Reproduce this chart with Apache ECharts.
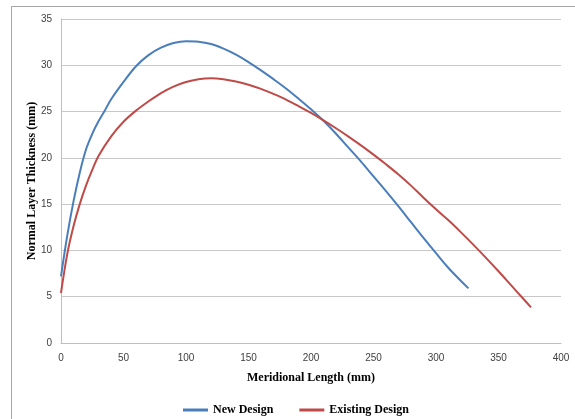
<!DOCTYPE html>
<html>
<head>
<meta charset="utf-8">
<script src="https://cdn.jsdelivr.net/npm/echarts@6/dist/echarts.min.js"></script>
<style>html,body{margin:0;padding:0;background:#fff;}#c{width:575px;height:419px;}</style>
</head>
<body>
<div id="c"></div>
<script>
var seriesNames = ['New Design', 'Existing Design'];
var newX = [0, 5, 10, 15, 20, 25, 30, 35, 40, 50, 60, 70, 80, 90, 100, 110, 120, 130, 140, 150, 160, 170, 180, 190, 200, 210, 220, 230, 240, 250, 260, 270, 280, 290, 300, 310, 320, 326];
var newY = [7.2, 11.6, 15.3, 18.4, 20.9, 22.6, 23.95, 25.1, 26.3, 28.2, 29.9, 31.1, 31.9, 32.4, 32.6, 32.55, 32.3, 31.8, 31.15, 30.35, 29.45, 28.5, 27.5, 26.4, 25.25, 24.0, 22.6, 21.1, 19.6, 18.0, 16.4, 14.75, 13.05, 11.35, 9.7, 8.1, 6.7, 5.9];
var exX = [0, 5, 10, 15, 20, 25, 30, 40, 50, 60, 70, 80, 90, 100, 110, 120, 130, 140, 150, 160, 170, 180, 190, 200, 210, 220, 230, 240, 250, 260, 270, 280, 290, 300, 310, 320, 330, 340, 350, 360, 370, 376];
var exY = [5.4, 9.6, 12.6, 15.0, 17.0, 18.7, 20.2, 22.3, 23.9, 25.1, 26.1, 27.0, 27.7, 28.2, 28.5, 28.6, 28.5, 28.25, 27.9, 27.45, 26.9, 26.3, 25.6, 24.85, 24.05, 23.2, 22.3, 21.35, 20.35, 19.3, 18.2, 17.0, 15.7, 14.45, 13.25, 11.95, 10.6, 9.2, 7.75, 6.25, 4.75, 3.85];
var xTitle = 'Meridional Length (mm)';
var yTitle = 'Normal Layer Thickness (mm)';

function pairs(xs, ys) { return xs.map(function (x, i) { return [x, ys[i]]; }); }

var chart = echarts.init(document.getElementById('c'), null, {renderer: 'canvas'});
var serifBold = {fontFamily: 'Liberation Serif', fontWeight: 'bold', fontSize: 12, color: '#000'};
chart.setOption({
  animation: false,
  backgroundColor: '#fff',
  graphic: [
    {type: 'line', shape: {x1: 11, y1: 6.5, x2: 575, y2: 6.5}, style: {stroke: '#a6a6a6', lineWidth: 1}},
    {type: 'line', shape: {x1: 11.5, y1: 6, x2: 11.5, y2: 419}, style: {stroke: '#a6a6a6', lineWidth: 1}}
  ],
  grid: {left: 61, right: 14, top: 19, bottom: 76, containLabel: false},
  legend: {
    left: 178, top: 399,
    icon: 'rect', itemWidth: 25, itemHeight: 3, itemGap: 26,
    textStyle: serifBold,
    data: seriesNames
  },
  xAxis: {
    type: 'value', min: 0, max: 400, interval: 50,
    name: xTitle, nameLocation: 'middle', nameGap: 29, nameTextStyle: serifBold,
    axisLine: {show: true, lineStyle: {color: '#bfbfbf'}},
    axisTick: {show: false},
    axisLabel: {fontFamily: 'Liberation Sans', fontSize: 10, color: '#404040', margin: 10},
    splitLine: {show: false}
  },
  yAxis: {
    type: 'value', min: 0, max: 35, interval: 5,
    name: yTitle, nameLocation: 'middle', nameGap: 23, nameMoveOverlap: false, nameTextStyle: serifBold,
    axisLine: {show: true, lineStyle: {color: '#bfbfbf'}},
    axisTick: {show: false},
    axisLabel: {fontFamily: 'Liberation Sans', fontSize: 10, color: '#404040', margin: 9},
    splitLine: {show: true, lineStyle: {color: '#c8c8c8', width: 1}}
  },
  series: [
    {name: seriesNames[0], type: 'line', data: pairs(newX, newY), smooth: 0.35,
     showSymbol: false, symbol: 'none', color: '#4a7ebb', lineStyle: {width: 2, color: '#4a7ebb'}},
    {name: seriesNames[1], type: 'line', data: pairs(exX, exY), smooth: 0.35,
     showSymbol: false, symbol: 'none', color: '#be4b48', lineStyle: {width: 2, color: '#be4b48'}}
  ]
});
</script>
</body>
</html>
